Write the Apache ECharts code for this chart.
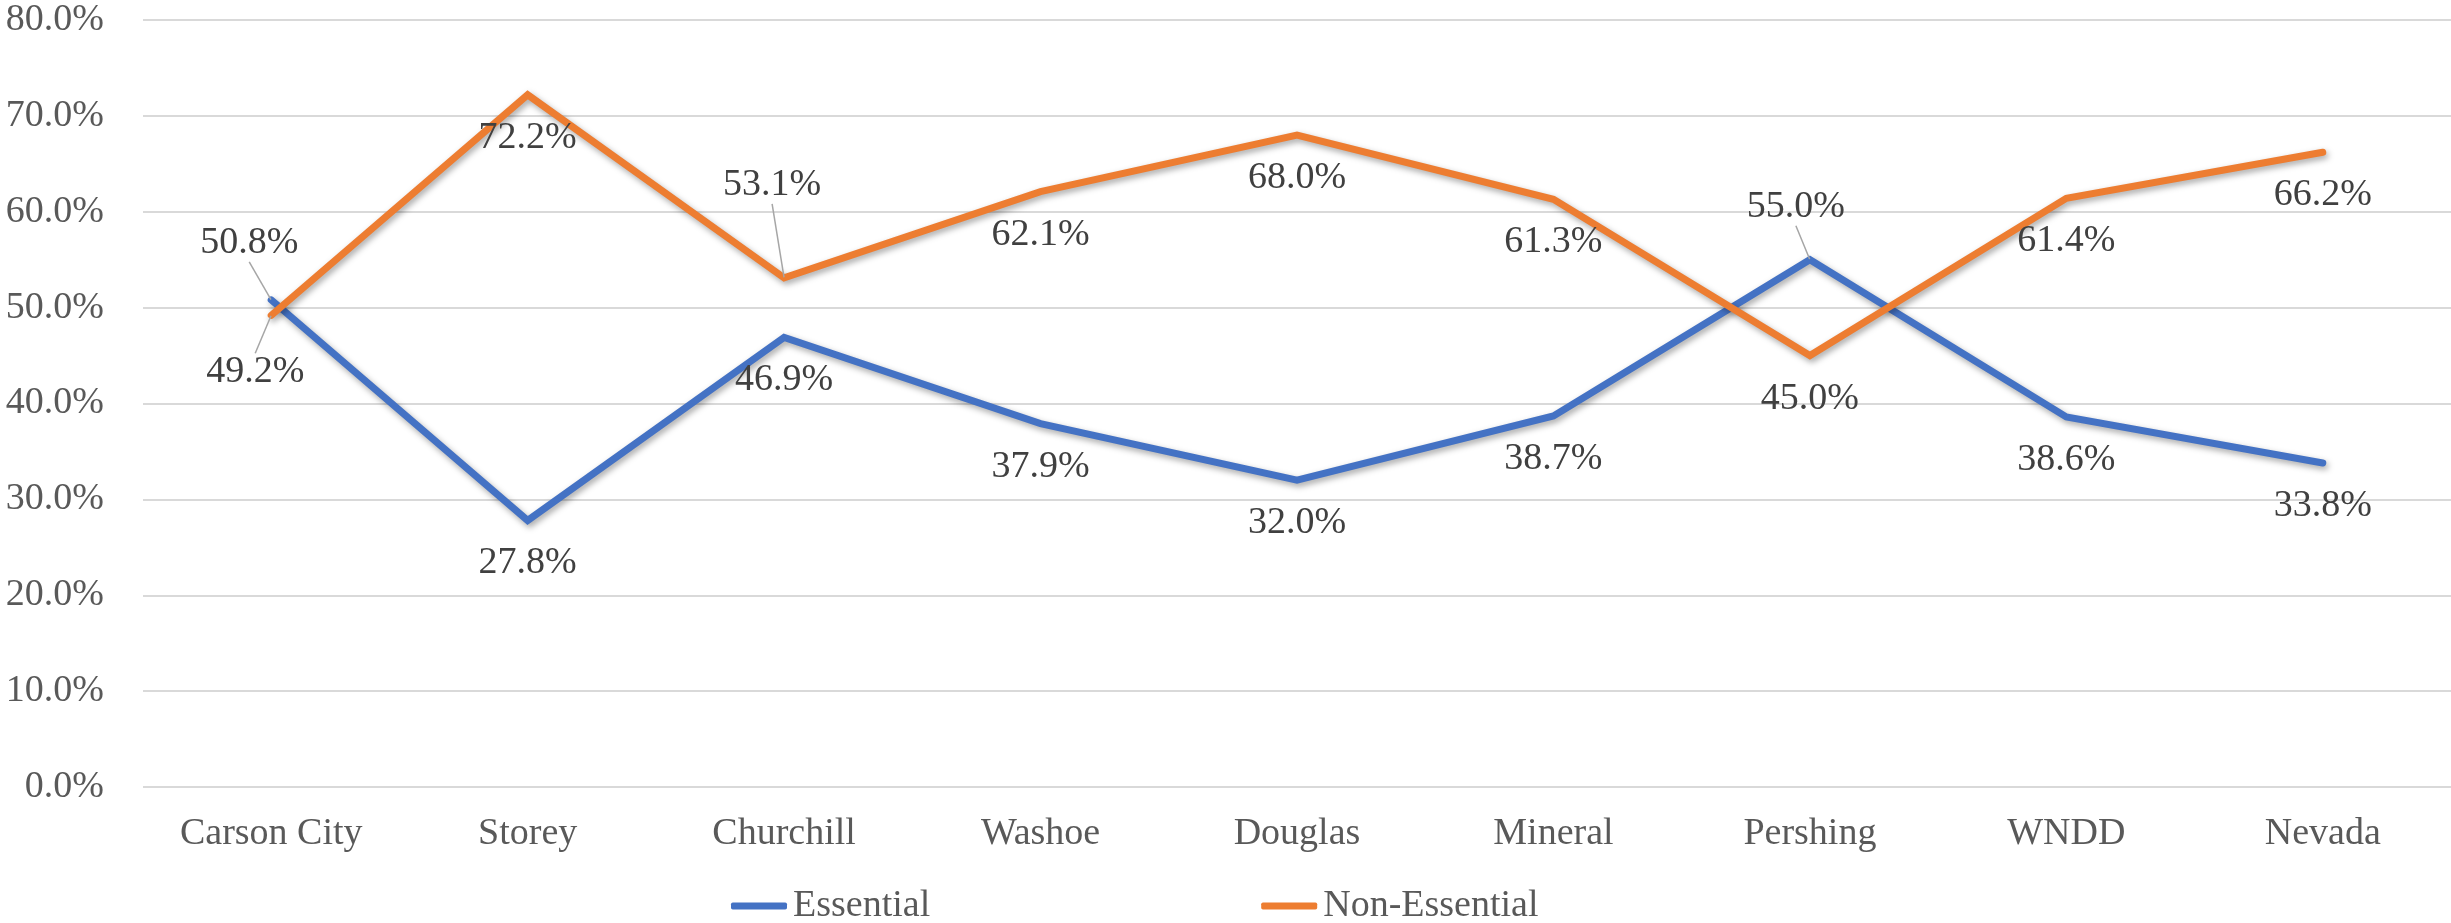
<!DOCTYPE html>
<html>
<head>
<meta charset="utf-8">
<script src="https://cdn.jsdelivr.net/npm/echarts@6/dist/echarts.min.js"></script>
<style>
html,body{margin:0;padding:0;background:#fff;}
#chart{width:2451px;height:923px;}
</style>
</head>
<body>
<div id="chart"></div>
<script>
// ---- data ----
const categories = ['Carson City', 'Storey', 'Churchill', 'Washoe', 'Douglas', 'Mineral', 'Pershing', 'WNDD', 'Nevada'];
const essential = [50.8, 27.8, 46.9, 37.9, 32.0, 38.7, 55.0, 38.6, 33.8];
const nonEssential = [49.2, 72.2, 53.1, 62.1, 68.0, 61.3, 45.0, 61.4, 66.2];
const seriesNames = ['Essential', 'Non-Essential'];
const yTicks = { min: 0, max: 80, step: 10 };

// ---- label placement (style, not data): shift of label centre from its point, px ----
const essentialLabelShift = [[-22, -57], null, null, null, null, null, [-14, -53], null, null];
const nonEssentialLabelShift = [[-16, 57], null, [-12, -93], null, null, null, null, null, null];
const defaultShift = [0, 43];

const FONT = 'Liberation Serif';
const chart = echarts.init(document.getElementById('chart'), null, { renderer: 'canvas' });

function buildData(values, shifts) {
  return values.map((v, i) => {
    const item = { value: v };
    if (shifts[i]) item.labelLine = { show: true };
    return item;
  });
}

function makeSeries(name, values, shifts, color) {
  return {
    name: name,
    type: 'line',
    data: buildData(values, shifts),
    symbol: 'circle',
    symbolSize: 1,
    showSymbol: true,
    itemStyle: { color: color },
    lineStyle: {
      color: color, width: 7, cap: 'round', join: 'miter',
      shadowColor: 'rgba(0,0,0,0.35)', shadowBlur: 6, shadowOffsetX: 2, shadowOffsetY: 3
    },
    label: {
      show: true,
      position: 'inside',
      formatter: p => p.value.toFixed(1) + '%',
      fontFamily: FONT, fontSize: 38, color: '#404040'
    },
    labelLine: { show: false, lineStyle: { color: '#A6A6A6', width: 1.5 } },
    labelLayout: function (params) {
      const s = shifts[params.dataIndex] || defaultShift;
      return { dx: s[0], dy: s[1] };
    },
    emphasis: { disabled: true },
    animation: false
  };
}

chart.setOption({
  animation: false,
  backgroundColor: '#ffffff',
  grid: { left: 143, right: 0, top: 20, bottom: 136, containLabel: false },
  legend: {
    data: seriesNames,
    left: 726,
    top: 882,
    itemWidth: 56,
    itemHeight: 7,
    itemGap: 331,
    icon: 'roundRect',
    textStyle: { fontFamily: FONT, fontSize: 38, color: '#595959', padding: [0, 0, 0, 1] }
  },
  xAxis: {
    type: 'category',
    data: categories,
    boundaryGap: true,
    axisLine: { show: false },
    axisTick: { show: false },
    axisLabel: { fontFamily: FONT, fontSize: 38, color: '#595959', margin: 28, interval: 0 },
    splitLine: { show: false }
  },
  yAxis: {
    type: 'value',
    min: yTicks.min,
    max: yTicks.max,
    interval: yTicks.step,
    axisLine: { show: false },
    axisTick: { show: false },
    axisLabel: { fontFamily: FONT, fontSize: 38, color: '#595959', margin: 39, formatter: v => v.toFixed(1) + '%' },
    splitLine: { show: true, lineStyle: { color: '#D9D9D9', width: 2 } }
  },
  series: [
    makeSeries(seriesNames[0], essential, essentialLabelShift, '#4472C4'),
    makeSeries(seriesNames[1], nonEssential, nonEssentialLabelShift, '#ED7D31')
  ]
});
</script>
</body>
</html>
